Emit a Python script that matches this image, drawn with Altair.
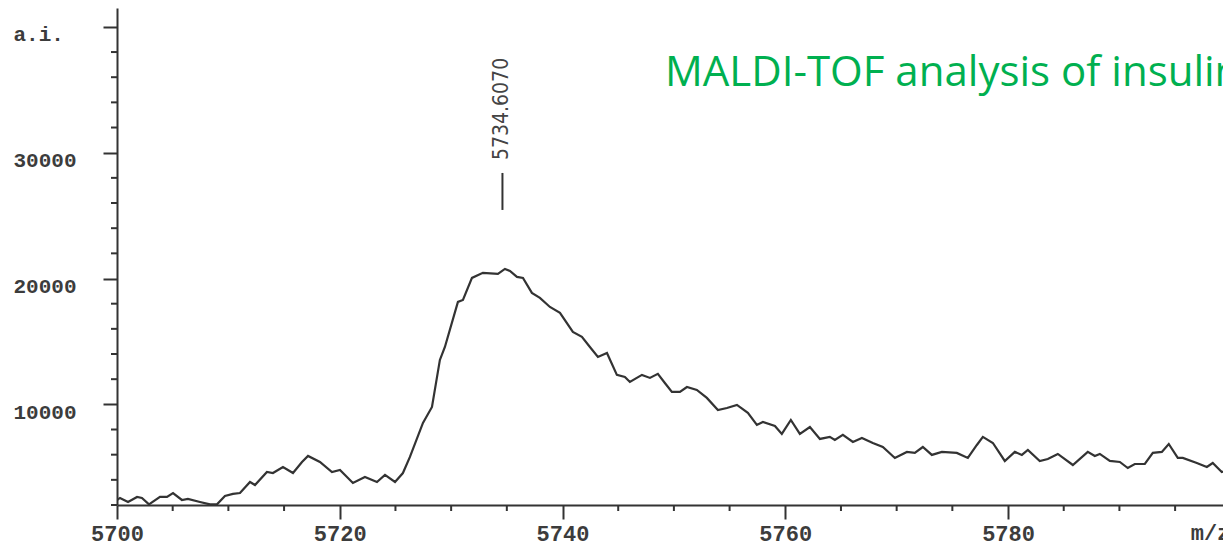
import altair as alt
import pandas as pd

# ---- spectrum (m/z, intensity a.i.) ----
mz = [5700.0, 5700.27, 5700.99, 5701.80, 5702.24, 5702.87, 5703.86, 5704.49, 5705.03, 5705.83,
      5706.37, 5707.45, 5708.35, 5708.98, 5709.69, 5710.41, 5711.04, 5711.94, 5712.39, 5713.46,
      5714.00, 5714.90, 5715.80, 5716.61, 5717.15, 5718.22, 5719.30, 5720.02, 5721.18, 5722.26,
      5723.34, 5724.06, 5724.96, 5725.67, 5726.30,
      5727.47, 5728.28, 5728.99, 5729.44, 5730.61, 5731.06, 5731.87, 5732.85, 5734.20, 5734.83,
      5735.28, 5735.91, 5736.45, 5737.25, 5737.97, 5738.87, 5739.77, 5740.93, 5741.74, 5742.46,
      5743.18, 5743.99, 5744.88, 5745.60, 5746.05, 5747.13, 5747.85,
      5748.56, 5749.19, 5749.82, 5750.54, 5751.17, 5752.06, 5752.96, 5753.95, 5754.76, 5755.66,
      5756.64, 5757.45, 5757.99, 5759.07, 5759.69, 5760.50, 5761.31, 5762.21, 5763.11, 5764.00,
      5764.45, 5765.17, 5766.07, 5766.88, 5767.86, 5768.76, 5769.84, 5770.92, 5771.63, 5772.35,
      5773.16, 5774.06, 5775.40, 5776.39, 5777.20, 5777.74, 5778.64, 5779.71, 5780.61, 5781.24,
      5781.78, 5782.85, 5783.57, 5784.47, 5785.82, 5787.16, 5787.79, 5788.24, 5789.14, 5790.04,
      5790.75, 5791.38, 5792.28, 5793.00, 5793.81, 5794.43, 5795.24, 5795.69, 5796.95, 5797.85,
      5798.38, 5799.19, 5799.91]

intensity = [2400, 2560, 2240, 2640, 2560, 2050, 2640, 2640, 2950, 2400,
             2480, 2240, 2050, 2050, 2720, 2880, 2950, 3830, 3590, 4620,
             4540, 5020, 4540, 5420, 5900, 5420, 4620, 4780, 3750, 4230,
             3830, 4390, 3830, 4540, 5820,
             8520, 9790, 13530, 14560, 18140, 18300, 20050, 20450, 20370, 20760,
             20600, 20130, 20050, 18860, 18460, 17740, 17270, 15760, 15360, 14560,
             13770, 14080, 12340, 12180, 11780, 12340, 12100,
             12420, 11700, 10990, 10990, 11380, 11140, 10510, 9550, 9710, 9950,
             9320, 8360, 8600, 8280, 7650, 8760, 7650, 8200, 7250, 7410,
             7170, 7570, 7010, 7330, 6930, 6610, 5740, 6220, 6140, 6610,
             5980, 6220, 6140, 5740, 6770, 7410, 6930, 5500, 6220, 5980,
             6370, 5500, 5660, 6060, 5180, 6220, 5900, 6060, 5500, 5420,
             4940, 5260, 5260, 6140, 6220, 6850, 5740, 5740, 5340, 5020,
             5340, 4620, 4860]

# ---- axis ticks ----
x_major = [5700, 5720, 5740, 5760, 5780]
x_minor = [5705, 5710, 5715, 5725, 5730, 5735, 5745, 5750, 5755,
           5765, 5770, 5775, 5785, 5790, 5795]
y_major = [10000, 20000, 30000, 40000]
y_minor = [2000, 4000, 6000, 8000, 12000, 14000, 16000, 18000, 22000, 24000,
           26000, 28000, 32000, 34000, 36000, 38000]
x_domain = [5700, 5799.3]
y_domain = [2000, 41500]

# ---- annotations ----
peak_mz = [5734.607]
peak_label = ["5734.6070"]
peak_label_y = [29420]
peak_mark_y = [25450]
peak_mark_y2 = [28390]
title_text = ["MALDI-TOF analysis of insulin"]
title_mz = [5749.2]
title_y = [35300]
unit_text = ["m/z"]
unit_mz = [5796.4]
unit_y = [-780]

spec = pd.DataFrame({"mz": mz, "intensity": intensity})
ann = pd.DataFrame({"mz": peak_mz, "label": peak_label, "intensity": peak_label_y,
                    "y1": peak_mark_y, "y2": peak_mark_y2})
ttl = pd.DataFrame({"mz": title_mz, "intensity": title_y, "label": title_text})
unit = pd.DataFrame({"mz": unit_mz, "intensity": unit_y, "label": unit_text})
xmin_df = pd.DataFrame({"mz": x_minor})
ymin_df = pd.DataFrame({"intensity": y_minor})

INK = "#333333"
LBL = "#3c3c3c"
AXFONT = "Liberation Mono"

xscale = alt.Scale(domain=x_domain, nice=False, zero=False)
yscale = alt.Scale(domain=y_domain, nice=False, zero=False)

x_axis = alt.Axis(
    values=x_major, title=None, grid=False, format="d",
    domainColor=INK, domainWidth=2, tickColor=INK, tickWidth=2, tickSize=14,
    labelFont=AXFONT, labelFontWeight="bold", labelFontSize=22, labelColor=LBL,
    labelBaseline="alphabetic", labelPadding=21, labelOverlap=False, labelFlush=False,
)
y_axis = alt.Axis(
    values=y_major, title=None, grid=False, format="d",
    domainColor=INK, domainWidth=2, tickColor=INK, tickWidth=2, tickSize=14,
    labelExpr="datum.value === 40000 ? 'a.i.' : datum.label",
    labelFont=AXFONT, labelFontWeight="bold", labelFontSize=21, labelColor=LBL,
    labelAlign="left", labelBaseline="alphabetic", labelPadding=90, labelOffset=14,
    labelOverlap=False, labelFlush=False,
)

line = alt.Chart(spec).mark_line(color=INK, strokeWidth=2.2, clip=True).encode(
    x=alt.X("mz:Q", scale=xscale, axis=x_axis, title=None),
    y=alt.Y("intensity:Q", scale=yscale, axis=y_axis, title=None),
)

# minor ticks (below the x axis, left of the y axis)
x_minor_ticks = alt.Chart(xmin_df).mark_rule(color=INK, strokeWidth=2, y2Offset=6).encode(
    x=alt.X("mz:Q", title=None),
    y=alt.datum(y_domain[0]),
    y2=alt.datum(y_domain[0]),
)
y_minor_ticks = alt.Chart(ymin_df).mark_rule(color=INK, strokeWidth=2, xOffset=-6).encode(
    y=alt.Y("intensity:Q", title=None),
    x=alt.datum(x_domain[0]),
    x2=alt.datum(x_domain[0]),
)

marker = alt.Chart(ann).mark_rule(color=INK, strokeWidth=2).encode(
    x=alt.X("mz:Q", title=None),
    y=alt.Y("y1:Q", title=None),
    y2="y2:Q",
)

peak_text = alt.Chart(ann).mark_text(
    angle=270, align="left", baseline="middle",
    font="DejaVu Sans Condensed", fontSize=21, color="#444444",
).encode(
    x=alt.X("mz:Q", title=None),
    y=alt.Y("intensity:Q", title=None),
    text="label:N",
)

title = alt.Chart(ttl).mark_text(
    align="left", baseline="alphabetic", font="Open Sans", fontSize=42, color="#00B050",
).encode(
    x=alt.X("mz:Q", title=None),
    y=alt.Y("intensity:Q", title=None),
    text="label:N",
)

unit_label = alt.Chart(unit).mark_text(
    align="left", baseline="alphabetic", font=AXFONT, fontWeight="bold",
    fontSize=22, color=LBL,
).encode(
    x=alt.X("mz:Q", title=None),
    y=alt.Y("intensity:Q", title=None),
    text="label:N",
)

chart = alt.layer(
    line, x_minor_ticks, y_minor_ticks, marker, peak_text, title, unit_label
).properties(
    width=1106, height=497,
    autosize=alt.AutoSizeParams(type="none"),
    padding={"left": 109, "top": 0, "right": 0, "bottom": 41},
).configure_view(strokeWidth=0)

chart.save("out.html", embed_options={"renderer": "svg", "actions": False})
